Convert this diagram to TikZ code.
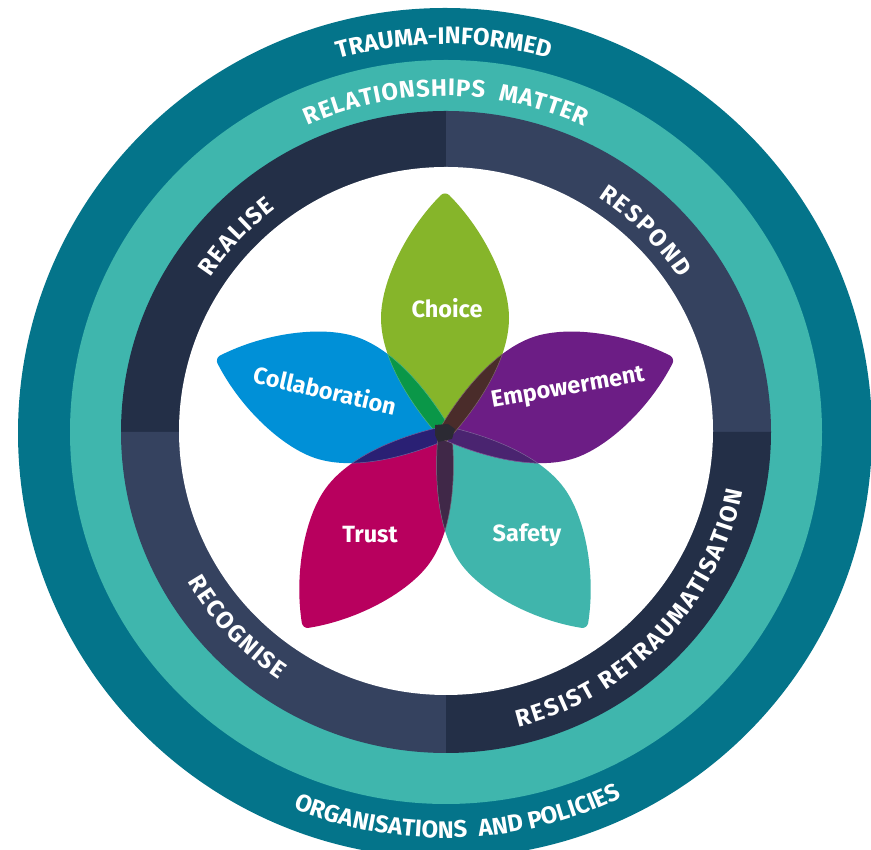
\documentclass[tikz,border=0pt]{standalone}
\usepackage{fontspec}
\setmainfont{Fira Sans}
\usetikzlibrary{decorations.text}
\newfontfamily\ringfont{Fira Sans}[UprightFont=* Bold]
\definecolor{outerteal}{HTML}{04748A}
\definecolor{midteal}{HTML}{3FB6AD}
\definecolor{navyA}{HTML}{232F47}
\definecolor{navyB}{HTML}{35425F}
\definecolor{choicec}{HTML}{86B52A}
\definecolor{collabc}{HTML}{0090D7}
\definecolor{emporc}{HTML}{6C1D85}
\definecolor{trustc}{HTML}{B8005E}
\definecolor{safetyc}{HTML}{40B5AC}
\definecolor{lensA}{HTML}{0A9748}
\definecolor{lensB}{HTML}{4A2C2A}
\definecolor{lensC}{HTML}{2A2074}
\definecolor{lensD}{HTML}{4A2470}
\definecolor{lensE}{HTML}{402848}
\definecolor{hub}{HTML}{2B2A33}
\def\petal{(0,-10) .. controls (28,20) and (64,70) .. (64,115) .. controls (64,150) and (40,202) .. (4,238) .. controls (2,240) and (-2,240) .. (-4,238) .. controls (-40,202) and (-64,150) .. (-64,115) .. controls (-64,70) and (-28,20) .. (0,-10) -- cycle}
\tikzset{
  petallabel/.style={text=white,font=\bfseries\fontsize{23.5}{24}\selectfont,inner sep=0pt}
}
% \arctext{start angle}{end angle}{radius}{size}{text}
\newcommand\arctext[5]{\path[decorate,decoration={text along path,text={|\ringfont\fontsize{#4}{#4}\selectfont\color{white}|#5},text align={fit to path}}] (#1:#3) arc (#1:#2:#3);}
\newcommand\lens[4]{%
  \begin{scope}\clip[rotate=#1] \petal;
    \fill[#3,rotate=#2] \petal;
    \draw[#4,line width=.5pt,rotate=#2] \petal;
  \end{scope}
  \begin{scope}\clip[rotate=#2] \petal;
    \draw[#4,line width=.5pt,rotate=#1] \petal;
  \end{scope}}
\begin{document}
\begin{tikzpicture}[x=1pt,y=1pt]
\useasboundingbox (0,0) rectangle (871,850);
\clip (0,0) rectangle (871,850);
\begin{scope}[shift={(445,417)}]
  \fill[outerteal] (0,0) ellipse [x radius=427,y radius=425];
  \fill[midteal] (1,1) ellipse [x radius=376,y radius=372];
  \begin{scope}[shift={(1,1)}]
    \fill[navyA] (0,0) -- (0,321) arc [start angle=90,end angle=180,x radius=325,y radius=321] -- cycle;
    \fill[navyB] (0,0) -- (325,0) arc [start angle=0,end angle=90,x radius=325,y radius=321] -- cycle;
    \fill[navyB] (0,0) -- (-325,0) arc [start angle=180,end angle=270,x radius=325,y radius=321] -- cycle;
    \fill[navyA] (0,0) -- (0,-321) arc [start angle=270,end angle=360,x radius=325,y radius=321] -- cycle;
  \end{scope}
  \fill[white] (1,2) ellipse [x radius=267,y radius=264];
  % petals
  \fill[choicec] \petal;
  \fill[collabc,rotate=72] \petal;
  \fill[trustc,rotate=144] \petal;
  \fill[safetyc,rotate=216] \petal;
  \fill[emporc,rotate=288] \petal;
  % overlaps
  \lens{0}{72}{lensA}{lensA!70!white}
  \lens{72}{144}{lensC}{lensC!70!white}
  \lens{144}{216}{lensE}{lensE!70!white}
  \lens{216}{288}{lensD}{lensD!70!white}
  \lens{288}{360}{lensB}{lensB!70!white}
  \fill[hub] (-10,8) -- (3,9) -- (10,4) -- (7,-6) -- (-7,-9) -- (-10,-2) -- cycle;
  % ring texts
  \arctext{105.9}{74.4}{389}{24}{TRAUMA-INFORMED}
  \arctext{114}{65.6}{337}{24}{RELATIONSHIPS{\ }{\ }MATTER}
  \arctext{248}{295}{405}{24}{ORGANISATIONS{\ }{\ }AND POLICIES}
  \arctext{146.5}{127}{281}{24}{REALISE}
  \arctext{57}{33.5}{281}{24}{RESPOND}
  \arctext{-76}{-11}{303}{24}{RESIST RETRAUMATISATION}
  \arctext{210}{236}{297}{24}{RECOGNISE}
  % petal labels
  \node[petallabel] (choice) at (2,125) {Choice};
  \node[petallabel,rotate=-13] (collab) at (-120,43) {Collaboration};
  \node[petallabel,rotate=10] (empower) at (123,44) {Empowerment};
  \node[petallabel] (trust) at (-75,-102) {Trust};
  \node[petallabel] (safety) at (82,-102) {Safety};
\end{scope}
\end{tikzpicture}
\end{document}
